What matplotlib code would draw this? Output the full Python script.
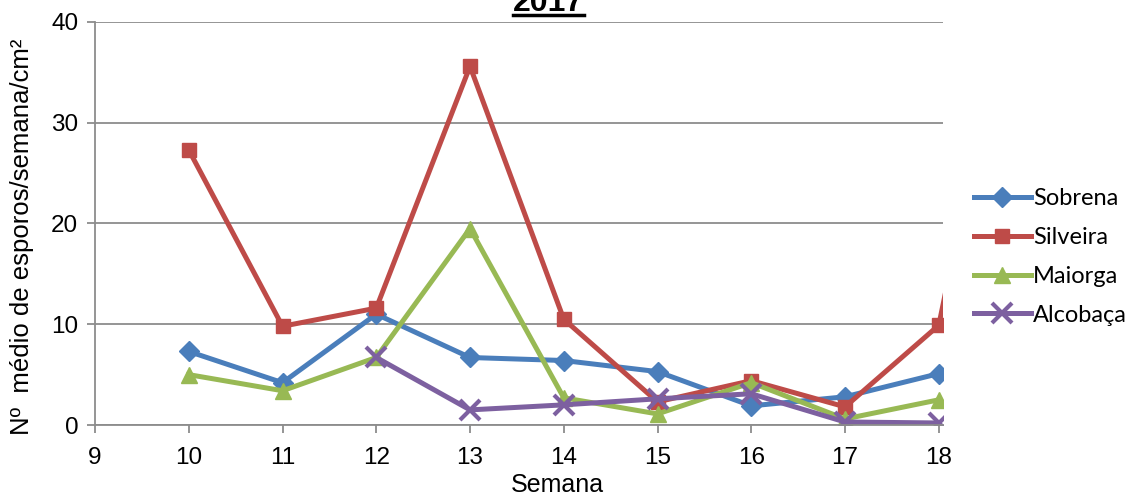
import numpy as np
import matplotlib
matplotlib.use("Agg")
import matplotlib.pyplot as plt
from matplotlib.lines import Line2D

# semanas 10-18 (Silveira tem mais um ponto, fora da escala)
semanas = [10, 11, 12, 13, 14, 15, 16, 17, 18]
sobrena = [7.3, 4.2, 11.0, 6.7, 6.4, 5.3, 1.9, 2.8, 5.1]
silveira_semanas = [10, 11, 12, 13, 14, 15, 16, 17, 18, 19]
silveira = [27.3, 9.8, 11.6, 35.6, 10.5, 2.3, 4.4, 1.8, 9.9, 55.0]
maiorga = [5.0, 3.4, 6.7, 19.5, 2.7, 1.1, 4.2, 0.6, 2.5]
alcobaca_semanas = [12, 13, 14, 15, 16, 17, 18]
alcobaca = [6.7, 1.5, 2.0, 2.6, 3.1, 0.3, 0.2]

titulo = "2017"
xlabel = "Semana"
ylabel = "Nº  médio de esporos/semana/cm²"

cor_azul = "#4A7EBB"
cor_verm = "#BE4B48"
cor_verde = "#98B954"
cor_roxo = "#7D60A0"
cinza = "#8C8C8C"

fig = plt.figure(figsize=(11.31, 4.96), dpi=100)
ax = fig.add_axes([95 / 1131, 1 - 425 / 496, (943 - 95) / 1131, (425 - 22) / 496])

lw = 3.6
ax.plot(semanas, sobrena, color=cor_azul, lw=lw, marker="D", ms=10, label="Sobrena")
ax.plot(silveira_semanas, silveira, color=cor_verm, lw=lw, marker="s", ms=10, label="Silveira")
ax.plot(semanas, maiorga, color=cor_verde, lw=lw, marker="^", ms=11, label="Maiorga")
ax.plot(alcobaca_semanas, alcobaca, color=cor_roxo, lw=lw, marker="x", ms=15, mew=3, label="Alcobaça")

ax.set_xlim(9, 18.045)
ax.set_ylim(0, 40)
ax.set_xticks(range(9, 19))
ax.set_yticks(range(0, 41, 10))
ax.yaxis.grid(True, color=cinza, lw=1.3)
ax.set_axisbelow(True)
for s in ["top", "right"]:
    ax.spines[s].set_visible(False)
for s in ["left", "bottom"]:
    ax.spines[s].set_color(cinza)
    ax.spines[s].set_linewidth(1.3)
ax.tick_params(axis="both", colors=cinza, length=6, width=1.3, labelsize=17.5,
               labelcolor="black", pad=6)
ax.tick_params(axis="x", pad=10)
for lab in ax.get_xticklabels() + ax.get_yticklabels():
    lab.set_fontfamily("Liberation Sans")

fig.text(557 / 1131, 1 - 485 / 496, xlabel, ha="center", va="center",
         fontsize=18, family="Liberation Sans")
fig.text(22 / 1131, 1 - 237 / 496, ylabel, ha="center", va="center",
         rotation=90, fontsize=18.5, family="Liberation Sans")

# titulo cortado no topo, sublinhado
fig.text(548 / 1131, 1 - 11 / 496, titulo, ha="center", va="baseline",
         fontsize=23, fontweight="bold", family="Liberation Sans")
fig.add_artist(Line2D([513 / 1131, 584 / 1131], [1 - 14.5 / 496, 1 - 14.5 / 496],
                      color="black", lw=2.5, transform=fig.transFigure))

leg = ax.legend(loc="center left", bbox_to_anchor=(974 / 1131, 1 - 257 / 496),
                bbox_transform=fig.transFigure, frameon=False,
                prop={"family": "Lato", "size": 17}, handlelength=2.4,
                handletextpad=0.1, labelspacing=0.75, borderpad=0, borderaxespad=0)

fig.savefig("out.png", dpi=100)
